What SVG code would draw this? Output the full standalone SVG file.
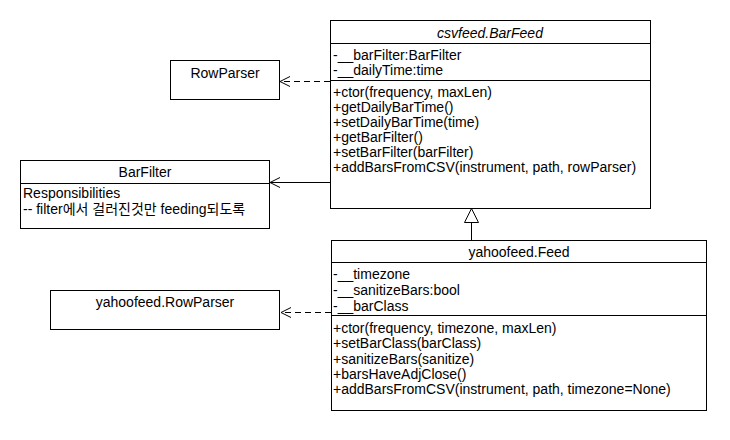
<svg xmlns="http://www.w3.org/2000/svg" width="730" height="440" viewBox="0 0 730 440">
<defs>
<style>
.box{fill:#fff;stroke:#000;stroke-width:1}
.sep{stroke:#000;stroke-width:1}
text{font-family:"Liberation Sans","Noto Sans CJK KR",Arial,sans-serif;font-size:14px;fill:#000}
.t{text-anchor:middle}
.i{font-style:italic}
.edge{fill:none;stroke:#000;stroke-width:1}
.dash{stroke-dasharray:6,4}
</style>
<marker id="open" markerWidth="12" markerHeight="12" refX="11" refY="6" orient="auto" markerUnits="userSpaceOnUse">
<path d="M1,1 L11,6 L1,11" fill="none" stroke="#000" stroke-width="1"/>
</marker>
<marker id="tri" markerWidth="16" markerHeight="16" refX="15" refY="8" orient="auto" markerUnits="userSpaceOnUse">
<path d="M1,1 L15,8 L1,15 Z" fill="#fff" stroke="#000" stroke-width="1"/>
</marker>
</defs>
<rect width="730" height="440" fill="#fff"/>
<g id="connectors">
<line class="edge dash" x1="330" y1="81.5" x2="280" y2="81.5" marker-end="url(#open)"/>
<line class="edge" x1="330" y1="182.5" x2="270" y2="182.5" marker-end="url(#open)"/>
<line class="edge dash" x1="331" y1="312.5" x2="281" y2="312.5" marker-end="url(#open)"/>
<line class="edge" x1="471.5" y1="240" x2="471.5" y2="208.5" marker-end="url(#tri)"/>
</g>
<g id="BarFeed">
<rect class="box" x="330.5" y="20.5" width="320" height="188"/>
<line class="sep" x1="330.5" y1="43.5" x2="650.5" y2="43.5"/>
<line class="sep" x1="330.5" y1="80.5" x2="650.5" y2="80.5"/>
<text class="t i" x="490" y="38">csvfeed.BarFeed</text>
<text x="333" y="60">-__barFilter:BarFilter</text>
<text x="333" y="75">-__dailyTime:time</text>
<text x="333" y="97">+ctor(frequency, maxLen)</text>
<text x="333" y="112">+getDailyBarTime()</text>
<text x="333" y="127">+setDailyBarTime(time)</text>
<text x="333" y="142">+getBarFilter()</text>
<text x="333" y="157">+setBarFilter(barFilter)</text>
<text x="333" y="172">+addBarsFromCSV(instrument, path, rowParser)</text>
</g>
<g id="RowParser">
<rect class="box" x="170.5" y="60.5" width="109" height="39"/>
<text class="t" x="225" y="78">RowParser</text>
</g>
<g id="BarFilter">
<rect class="box" x="20.5" y="160.5" width="249" height="68"/>
<line class="sep" x1="20.5" y1="183.5" x2="269.5" y2="183.5"/>
<text class="t" x="145" y="177">BarFilter</text>
<text x="23" y="198">Responsibilities</text>
<text x="23" y="214">-- filter에서 걸러진것만 feeding되도록</text>
</g>
<g id="Feed">
<rect class="box" x="331.5" y="240.5" width="375" height="170"/>
<line class="sep" x1="331.5" y1="262.5" x2="706.5" y2="262.5"/>
<line class="sep" x1="331.5" y1="315.5" x2="706.5" y2="315.5"/>
<text class="t" x="519" y="257">yahoofeed.Feed</text>
<text x="333" y="279">-__timezone</text>
<text x="333" y="295">-__sanitizeBars:bool</text>
<text x="333" y="311">-__barClass</text>
<text x="333" y="333">+ctor(frequency, timezone, maxLen)</text>
<text x="333" y="348">+setBarClass(barClass)</text>
<text x="333" y="364">+sanitizeBars(sanitize)</text>
<text x="333" y="379">+barsHaveAdjClose()</text>
<text x="333" y="394">+addBarsFromCSV(instrument, path, timezone=None)</text>
</g>
<g id="YahooRowParser">
<rect class="box" x="50.5" y="290.5" width="229" height="39"/>
<text class="t" x="165" y="307">yahoofeed.RowParser</text>
</g>
</svg>
